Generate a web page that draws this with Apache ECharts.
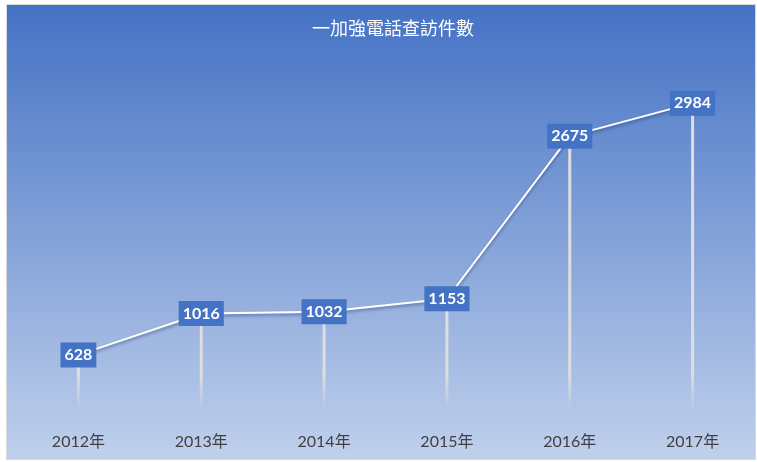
<!DOCTYPE html>
<html lang="zh-Hant">
<head>
    <meta charset="UTF-8">
    <title>加強電話查訪件數</title>
    <script src="https://cdn.jsdelivr.net/npm/echarts@6/dist/echarts.min.js"></script>
    <style>
        html, body { margin: 0; padding: 0; background: #fff; }
        #main {
            position: absolute; left: 6px; top: 4px;
            width: 748px; height: 454px;
            border: 1px solid #d9d9d9;
        }
    </style>
</head>
<body>

    <div id="main"></div>

    <script type="text/javascript">
        // 資料
        var years = ['2012年', '2013年', '2014年', '2015年', '2016年', '2017年'];
        var counts = [628, 1016, 1032, 1153, 2675, 2984];

        var myChart = echarts.init(document.getElementById('main'));

        var option = {
            backgroundColor: new echarts.graphic.LinearGradient(0, 0, 0, 1, [
                { offset: 0, color: '#4472c4' },
                { offset: 1, color: '#c0d0ec' }
            ]),
            animation: false,
            title: {
                text: '一加強電話查訪件數',
                left: 300,
                top: 9,
                textStyle: {
                    color: '#ffffff',
                    fontSize: 18,
                    fontWeight: 'normal',
                    fontFamily: '"Noto Sans CJK TC", sans-serif'
                }
            },
            grid: { left: 10, right: 1, top: 43, bottom: 37 },
            xAxis: {
                type: 'category',
                data: years,
                axisLine: { show: false },
                axisTick: { show: false },
                axisLabel: {
                    color: '#404040',
                    fontSize: 16,
                    margin: 12,
                    fontFamily: 'Lato, "Noto Sans CJK TC", sans-serif'
                }
            },
            yAxis: {
                type: 'value',
                min: 0,
                max: 3500,
                show: false,
                splitLine: { show: false }
            },
            series: [
                {
                    // 垂直線
                    type: 'bar',
                    data: counts,
                    barWidth: 3,
                    z: 1,
                    itemStyle: {
                        color: {
                            type: 'linear',
                            x: 0, y: 370, x2: 0, y2: 405,
                            global: true,
                            colorStops: [
                                { offset: 0, color: 'rgba(222,222,222,1)' },
                                { offset: 1, color: 'rgba(222,222,222,0)' }
                            ]
                        }
                    }
                },
                {
                    type: 'line',
                    data: counts,
                    z: 3,
                    symbol: 'circle',
                    symbolSize: 1,
                    itemStyle: { color: '#ffffff' },
                    lineStyle: {
                        color: '#ffffff',
                        width: 2,
                        shadowColor: 'rgba(20,40,100,0.45)',
                        shadowBlur: 3,
                        shadowOffsetY: 2
                    },
                    label: {
                        show: true,
                        position: 'inside',
                        color: '#ffffff',
                        fontSize: 16,
                        lineHeight: 17,
                        fontWeight: 'bold',
                        fontFamily: 'Lato, sans-serif',
                        backgroundColor: '#4472c4',
                        padding: [4, 4, 4, 4]
                    }
                }
            ]
        };

        myChart.setOption(option);
    </script>
</body>
</html>
